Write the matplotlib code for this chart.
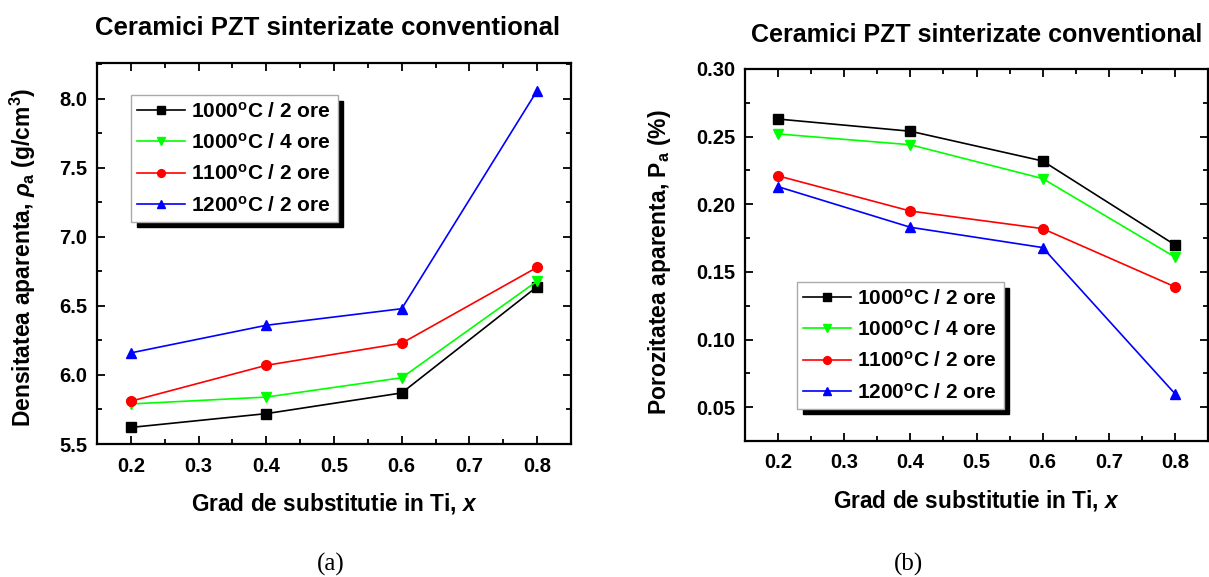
import matplotlib
matplotlib.use("Agg")
import matplotlib.pyplot as plt
from matplotlib.ticker import MultipleLocator, FormatStrFormatter

plt.rcParams['font.family'] = ['Liberation Sans', 'DejaVu Sans']
plt.rcParams['font.weight'] = 'bold'
plt.rcParams['mathtext.fontset'] = 'custom'
plt.rcParams['mathtext.rm'] = 'Liberation Sans:bold'
plt.rcParams['mathtext.bf'] = 'Liberation Sans:bold'
plt.rcParams['mathtext.it'] = 'Liberation Sans:italic:bold'

x = [0.2, 0.4, 0.6, 0.8]
labels = [r'1000$^{\rm o}$C / 2 ore', r'1000$^{\rm o}$C / 4 ore',
          r'1100$^{\rm o}$C / 2 ore', r'1200$^{\rm o}$C / 2 ore']
colors = ['black', '#00ff00', '#ff0000', '#0000ff']
markers = ['s', 'v', 'o', '^']

dens_1000_2 = [5.62, 5.72, 5.87, 6.64]
dens_1000_4 = [5.79, 5.84, 5.98, 6.68]
dens_1100_2 = [5.81, 6.07, 6.23, 6.78]
dens_1200_2 = [6.16, 6.36, 6.48, 8.06]

por_1000_2 = [0.263, 0.254, 0.232, 0.170]
por_1000_4 = [0.252, 0.244, 0.219, 0.161]
por_1100_2 = [0.221, 0.195, 0.182, 0.139]
por_1200_2 = [0.213, 0.183, 0.168, 0.060]

title = 'Ceramici PZT sinterizate conventional'
xlab = r'Grad de substitutie in Ti, $\it{x}$'
ylab1 = r'Densitatea aparenta, $\it{\rho}_{\rm a}$ (g/cm$^{3}$)'
ylab2 = r'Porozitatea aparenta, P$_{\rm a}$ (%)'

W, H = 1209, 577
fig = plt.figure(figsize=(W / 100, H / 100), dpi=100)

def ax_rect(l, r, t, b):
    return [l / W, 1 - b / H, (r - l) / W, (b - t) / H]

A1 = (97, 571, 63, 444)
A2 = (745, 1208, 69, 441)
ax1 = fig.add_axes(ax_rect(*A1))
ax2 = fig.add_axes(ax_rect(*A2))

def style(ax, ymaj, ymin, yfmt):
    ax.xaxis.set_major_locator(MultipleLocator(0.1))
    ax.xaxis.set_minor_locator(MultipleLocator(0.05))
    ax.yaxis.set_major_locator(MultipleLocator(ymaj))
    ax.yaxis.set_minor_locator(MultipleLocator(ymin))
    ax.xaxis.set_major_formatter(FormatStrFormatter('%.1f'))
    ax.yaxis.set_major_formatter(FormatStrFormatter(yfmt))
    ax.tick_params(which='both', direction='in', top=True, right=True,
                   labelsize=14.5, width=1.3)
    ax.tick_params(which='major', length=6)
    ax.tick_params(axis='x', which='major', pad=9)
    ax.tick_params(axis='y', which='major', pad=7)
    ax.tick_params(which='minor', length=3.5)
    for s in ax.spines.values():
        s.set_linewidth(1.6)

series1 = [dens_1000_2, dens_1000_4, dens_1100_2, dens_1200_2]
series2 = [por_1000_2, por_1000_4, por_1100_2, por_1200_2]

for ys, c, m, lab in zip(series1, colors, markers, labels):
    ax1.plot(x, ys, color=c, marker=m, markersize=7, linewidth=1.2, label=lab)
for ys, c, m, lab in zip(series2, colors, markers, labels):
    ax2.plot(x, ys, color=c, marker=m, markersize=7, linewidth=1.2, label=lab)

ax1.set_xlim(0.15, 0.85)
ax1.set_ylim(5.5, 8.26)
ax2.set_xlim(0.15, 0.85)
ax2.set_ylim(0.025, 0.30)
style(ax1, 0.5, 0.25, '%.1f')
style(ax2, 0.05, 0.025, '%.2f')

for ax in (ax1, ax2):
    ax.set_xlabel(xlab, fontsize=16.3, fontweight='bold', labelpad=11)
ax1.set_ylabel(ylab1, fontsize=16.5, fontweight='bold')
ax2.set_ylabel(ylab2, fontsize=16.5, fontweight='bold')
ax1.yaxis.set_label_coords((38 - A1[0]) / (A1[1] - A1[0]), 0.49)
ax2.yaxis.set_label_coords((673 - A2[0]) / (A2[1] - A2[0]), 0.48)

fig.text(327.5 / W, 1 - 35 / H, title, ha='center', va='baseline',
         fontsize=18.5, fontweight='bold')
fig.text(751 / W, 1 - 41.5 / H, title, ha='left', va='baseline',
         fontsize=18, fontweight='bold')

leg_kw = dict(fontsize=15, frameon=True, fancybox=False, edgecolor='#aaaaaa',
              shadow={'color': 'black', 'alpha': 1, 'ox': 4, 'oy': -4},
              handlelength=2.3, handletextpad=0.3, borderpad=0.3,
              labelspacing=0.55, borderaxespad=0, markerscale=0.8)
l1 = ax1.legend(loc='upper left',
                bbox_to_anchor=((131 - A1[0]) / (A1[1] - A1[0]), 1 - (95 - A1[2]) / (A1[3] - A1[2])),
                **leg_kw)
l2 = ax2.legend(loc='upper left',
                bbox_to_anchor=((797 - A2[0]) / (A2[1] - A2[0]), 1 - (282 - A2[2]) / (A2[3] - A2[2])),
                **leg_kw)
for l in (l1, l2):
    l.get_frame().set_linewidth(1.0)

fig.text(331 / W, 1 - 564 / H, '(a)', ha='center', va='center', fontsize=18,
         family='Liberation Serif', fontweight='normal')
fig.text(908.5 / W, 1 - 564 / H, '(b)', ha='center', va='center', fontsize=18,
         family='Liberation Serif', fontweight='normal')

fig.savefig('out.png', dpi=100)
